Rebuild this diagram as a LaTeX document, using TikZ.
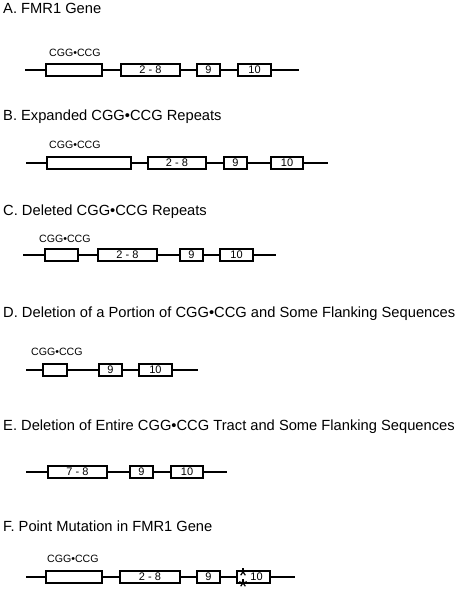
\documentclass[tikz,border=0pt]{standalone}
\usepackage{fontspec}
\setmainfont{Liberation Sans}
\begin{document}
\begin{tikzpicture}[x=1pt,y=-1pt,
 title/.style={anchor=base west, inner sep=0pt, font=\fontsize{14.7}{17}\selectfont},
 rep/.style={anchor=base west, inner sep=0pt, font=\fontsize{10.6}{12}\selectfont},
 exon/.style={draw, line width=1.2pt, fill=white, minimum height=12pt, inner sep=0pt, font=\fontsize{11}{12}\selectfont},
 gline/.style={line width=1.2pt},
 star/.style={line width=1.2pt}]
\useasboundingbox (0,0) rectangle (456,608);

% ---------- A ----------
\node[title] (tA) at (3,13) {A. FMR1 Gene};
\node[rep] (rA) at (49,56) {CGG•CCG};
\coordinate (a0) at (25,70);
\coordinate (a5) at (299,70);
\node[exon, minimum width=56pt] (a1) at (74,70) {};
\node[exon, minimum width=59pt] (a2) at (150.5,70) {2 - 8};
\node[exon, minimum width=23pt] (a3) at (208.5,70) {9};
\node[exon, minimum width=33pt] (a4) at (254.5,70) {10};
\draw[gline] (a0) -- (a1) -- (a2) -- (a3) -- (a4) -- (a5);

% ---------- B ----------
\node[title] (tB) at (3,120) {B. Expanded CGG•CCG Repeats};
\node[rep] (rB) at (49,148) {CGG•CCG};
\coordinate (b0) at (26,163);
\coordinate (b5) at (328,163);
\node[exon, minimum width=84pt] (b1) at (89,163) {};
\node[exon, minimum width=58pt] (b2) at (177,163) {2 - 8};
\node[exon, minimum width=23pt] (b3) at (235.5,163) {9};
\node[exon, minimum width=32pt] (b4) at (287,163) {10};
\draw[gline] (b0) -- (b1) -- (b2) -- (b3) -- (b4) -- (b5);

% ---------- C ----------
\node[title] (tC) at (3,215) {C. Deleted CGG•CCG Repeats};
\node[rep] (rC) at (39,242) {CGG•CCG};
\coordinate (c0) at (23,255);
\coordinate (c5) at (276,255);
\node[exon, minimum width=33pt] (c1) at (61.5,255) {};
\node[exon, minimum width=59pt] (c2) at (127.5,255) {2 - 8};
\node[exon, minimum width=23pt] (c3) at (191.5,255) {9};
\node[exon, minimum width=33pt] (c4) at (236.5,255) {10};
\draw[gline] (c0) -- (c1) -- (c2) -- (c3) -- (c4) -- (c5);

% ---------- D ----------
\node[title] (tD) at (3,317) {D. Deletion of a Portion of CGG•CCG and Some Flanking Sequences};
\node[rep] (rD) at (31,355) {CGG•CCG};
\coordinate (d0) at (26,370);
\coordinate (d4) at (198,370);
\node[exon, minimum width=24pt] (d1) at (55,370) {};
\node[exon, minimum width=23pt] (d2) at (110.5,370) {9};
\node[exon, minimum width=33pt] (d3) at (155.5,370) {10};
\draw[gline] (d0) -- (d1) -- (d2) -- (d3) -- (d4);

% ---------- E ----------
\node[title] (tE) at (3,430) {E. Deletion of Entire CGG•CCG Tract and Some Flanking Sequences};
\coordinate (e0) at (26,472);
\coordinate (e4) at (227,472);
\node[exon, minimum width=59pt] (e1) at (77.5,472) {7 - 8};
\node[exon, minimum width=23pt] (e2) at (141.5,472) {9};
\node[exon, minimum width=32pt] (e3) at (187,472) {10};
\draw[gline] (e0) -- (e1) -- (e2) -- (e3) -- (e4);

% ---------- F ----------
\node[title] (tF) at (3,531) {F. Point Mutation in FMR1 Gene};
\node[rep] (rF) at (47,562) {CGG•CCG};
\coordinate (f0) at (26,577);
\coordinate (f5) at (295,577);
\node[exon, minimum width=56pt] (f1) at (74,577) {};
\node[exon, minimum width=60pt] (f2) at (150,577) {2 - 8};
\node[exon, minimum width=23pt] (f3) at (208.5,577) {9};
\node[exon, minimum width=33pt] (f4) at (253.5,577) {\hspace*{6pt}10};
\draw[gline] (f0) -- (f1) -- (f2) -- (f3) -- (f4) -- (f5);

% asterisks (point mutations)
\coordinate (s1) at (243,572);
\coordinate (s2) at (243,583);
\foreach \s in {s1,s2} {
  \foreach \a in {-90,-18,54,126,198} {
    \draw[star] (\s) -- ++(\a:4);
  }
}
\end{tikzpicture}
\end{document}
